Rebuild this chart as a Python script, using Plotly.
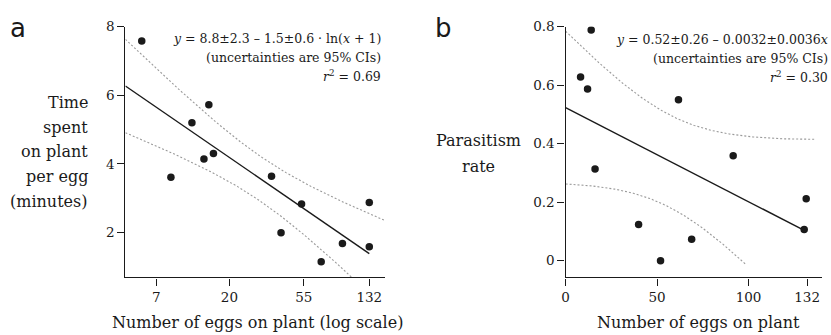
import numpy as np
import plotly.graph_objects as go

# ---------------- data ----------------
# Panel a: time spent on plant per egg vs number of eggs (log scale)
eggs_a = [5.6, 8.7, 11.8, 15.0, 14.0, 16.0, 35.6, 40.5, 53.4, 69.5, 92.3, 132, 132]
time_a = [7.58, 3.61, 5.20, 5.72, 4.14, 4.30, 3.64, 1.99, 2.83, 1.15, 1.68, 2.87, 1.58]
# Panel b: parasitism rate vs number of eggs
eggs_b = [8.2, 12.0, 14.0, 16.1, 39.9, 51.9, 61.7, 68.9, 91.6, 131.5, 130.4]
rate_b = [0.628, 0.587, 0.788, 0.313, 0.124, 0.0, 0.55, 0.073, 0.359, 0.212, 0.107]

xticks_a = [7, 20, 55, 132]
yticks_a = [2, 4, 6, 8]
xticks_b = [0, 50, 100, 132]
yticks_b = [0, 0.2, 0.4, 0.6, 0.8]
ytick_text_b = ["0", "0.2", "0.4", "0.6", "0.8"]

t_crit_a = 2.201   # t(0.975, df=11)
t_crit_b = 2.262   # t(0.975, df=9)

eq_lines_a = ["<i>y</i> = 8.8±2.3 – 1.5±0.6 · ln(<i>x</i> + 1)",
              "(uncertainties are 95% CIs)",
              "<i>r</i><sup>2</sup> = 0.69"]
eq_lines_b = ["<i>y</i> = 0.52±0.26 – 0.0032±0.0036<i>x</i>",
              "(uncertainties are 95% CIs)",
              "<i>r</i><sup>2</sup> = 0.30"]
ytitle_lines_a = ["Time", "spent", "on plant", "per egg", "(minutes)"]
ytitle_lines_b = ["Parasitism", "rate"]

def ols(X, y, t):
    X = np.asarray(X, float); y = np.asarray(y, float)
    n = len(X)
    xm, ym = X.mean(), y.mean()
    sxx = ((X - xm) ** 2).sum()
    b1 = ((X - xm) * (y - ym)).sum() / sxx
    b0 = ym - b1 * xm
    resid = y - (b0 + b1 * X)
    s = np.sqrt((resid ** 2).sum() / (n - 2))
    def band(g):
        h = t * s * np.sqrt(1.0 / n + (g - xm) ** 2 / sxx)
        fit = b0 + b1 * g
        return fit, fit - h, fit + h
    return b0, b1, band

W, H = 831, 335
def px(x): return x / W
def py(y): return 1 - y / H

FONT = "DejaVu Serif"
SANS = "DejaVu Sans"
INK = "#1a1a1a"
CI_COL = "#9a9a9a"

fig = go.Figure()

# ---- panel a (x axis is ln(x+1)) ----
Xa = np.log(np.asarray(eggs_a) + 1)
xr_a = [np.log(5.32), np.log(164)]
yr_a = [0.69, 8]
b0a, b1a, band_a = ols(Xa, time_a, t_crit_a)
ga = np.linspace(xr_a[0], xr_a[1], 200)
_, loa, hia = band_a(ga)
for yy in (hia, loa):
    fig.add_trace(go.Scatter(x=ga, y=yy, mode="lines", xaxis="x", yaxis="y",
                             line=dict(color=CI_COL, width=1.1, dash="2px,2px"), hoverinfo="skip"))
gl = np.linspace(xr_a[0], Xa.max(), 50)
fig.add_trace(go.Scatter(x=gl, y=b0a + b1a * gl, mode="lines", xaxis="x", yaxis="y",
                         line=dict(color=INK, width=1.4)))
fig.add_trace(go.Scatter(x=Xa, y=time_a, mode="markers", xaxis="x", yaxis="y",
                         marker=dict(color=INK, size=7.5)))

# ---- panel b ----
Xb = np.asarray(eggs_b, float)
xr_b = [0, 140]
yr_b = [-0.057, 0.8]
b0b, b1b, band_b = ols(Xb, rate_b, t_crit_b)
gb = np.linspace(0, 136.5, 300)
_, lob, hib = band_b(gb)
lob_m = np.where(lob >= -0.015, lob, np.nan)
for yy in (hib, lob_m):
    fig.add_trace(go.Scatter(x=gb, y=yy, mode="lines", xaxis="x2", yaxis="y2",
                             line=dict(color=CI_COL, width=1.1, dash="2px,2px"), hoverinfo="skip"))
gl2 = np.linspace(0, Xb.max(), 50)
fig.add_trace(go.Scatter(x=gl2, y=b0b + b1b * gl2, mode="lines", xaxis="x2", yaxis="y2",
                         line=dict(color=INK, width=1.4)))
fig.add_trace(go.Scatter(x=Xb, y=rate_b, mode="markers", xaxis="x2", yaxis="y2",
                         marker=dict(color=INK, size=7.5)))

axis_common = dict(showline=True, linecolor=INK, linewidth=1.4, ticks="outside", ticklen=7,
                   tickwidth=1.4, tickcolor=INK, showgrid=False, zeroline=False,
                   tickfont=dict(family=FONT, size=13.5, color=INK))

ydom = [py(276), py(19)]
fig.update_layout(
    width=W, height=H, margin=dict(l=0, r=0, t=0, b=0),
    paper_bgcolor="white", plot_bgcolor="white", showlegend=False,
    font=dict(family=FONT, color=INK),
    xaxis=dict(domain=[px(122), px(383)], range=xr_a, anchor="y",
               tickvals=list(np.log(np.asarray(xticks_a) + 1)),
               ticktext=[str(v) for v in xticks_a], **axis_common),
    yaxis=dict(domain=ydom, range=yr_a, anchor="x", tickvals=yticks_a, **axis_common),
    xaxis2=dict(domain=[px(564.3), px(821.7)], range=xr_b, anchor="y2",
                tickvals=xticks_b, ticktext=[str(v) for v in xticks_b], **axis_common),
    yaxis2=dict(domain=ydom, range=yr_b, anchor="x2", tickvals=yticks_b,
                ticktext=ytick_text_b, **axis_common),
)

ann = [
    dict(text="a", x=px(14), y=py(20), xanchor="center", yanchor="middle",
         font=dict(family=SANS, size=26, color=INK)),
    dict(text="b", x=px(441.5), y=py(20), xanchor="center", yanchor="middle",
         font=dict(family=SANS, size=26, color=INK)),
    dict(text="Number of eggs on plant (log scale)", x=px(254.7), y=py(322), xanchor="center",
         yanchor="middle", font=dict(family=FONT, size=16, color=INK)),
    dict(text="Number of eggs on plant", x=px(698.3), y=py(322), xanchor="center",
         yanchor="middle", font=dict(family=FONT, size=16, color=INK)),
]
for i, t in enumerate(ytitle_lines_a):
    ann.append(dict(text=t, x=px(86), y=py(97 + 25.2 * i), xanchor="right", yanchor="middle",
                    font=dict(family=FONT, size=16, color=INK)))
for i, t in enumerate(ytitle_lines_b):
    ann.append(dict(text=t, x=px(477), y=py(136 + 26 * i), xanchor="center", yanchor="middle",
                    font=dict(family=FONT, size=16, color=INK)))
for lines, xr, y0 in ((eq_lines_a, 381, 31), (eq_lines_b, 830, 32)):
    for i, t in enumerate(lines):
        ann.append(dict(text=t, x=px(xr), y=py(y0 + 19.5 * i), xanchor="right",
                        yanchor="middle", align="right",
                        font=dict(family=FONT, size=12.5, color=INK)))
for a in ann:
    a.update(xref="paper", yref="paper", showarrow=False)
fig.update_layout(annotations=ann)

fig.write_html("out.html")
